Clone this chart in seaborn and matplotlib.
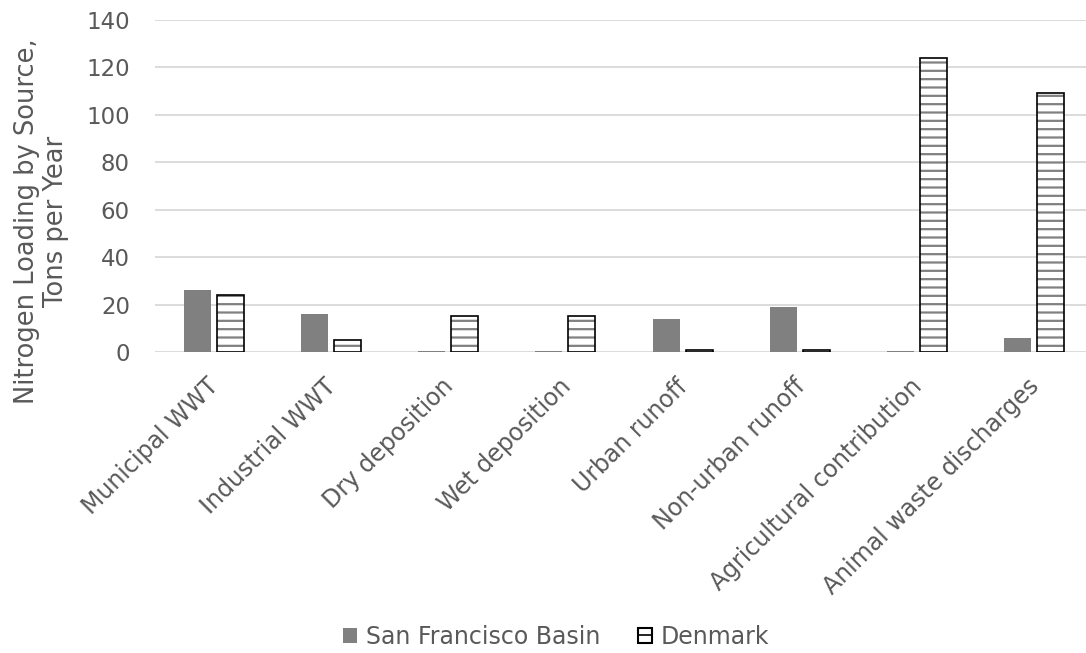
import matplotlib
matplotlib.use("Agg")
import matplotlib.pyplot as plt
import matplotlib.transforms as mtransforms
from matplotlib.patches import Patch, Rectangle
from matplotlib.lines import Line2D
from matplotlib.legend_handler import HandlerBase
import seaborn as sns
import pandas as pd

# Nitrogen loading by source (tons per year)
sources = [
    "Municipal WWT",
    "Industrial WWT",
    "Dry deposition",
    "Wet deposition",
    "Urban runoff",
    "Non-urban runoff",
    "Agricultural contribution",
    "Animal waste discharges",
]
san_francisco = [26, 16, 0.3, 0.2, 14, 19, 0.6, 6]
denmark = [24, 5, 15, 15, 0.8, 0.8, 124, 109]
regions = ["San Francisco Basin", "Denmark"]
y_ticks = [0, 20, 40, 60, 80, 100, 120, 140]

df = pd.DataFrame({
    "Source": sources * 2,
    "Load": san_francisco + denmark,
    "Region": [regions[0]] * len(sources) + [regions[1]] * len(sources),
})

sns.set_theme(style="white")
plt.rcParams["font.family"] = ["DejaVu Sans"]
plt.rcParams["hatch.linewidth"] = 1.6

TEXT = "#595959"
GRID = "#d9d9d9"
SF_GRAY = "#808080"


class HatchedBoxHandler(HandlerBase):
    """Legend key: white box with a black border and one horizontal rule."""

    def create_artists(self, legend, orig_handle, xdescent, ydescent,
                       width, height, fontsize, trans):
        x0, y0 = -xdescent, -ydescent
        box = Rectangle((x0, y0), width, height, facecolor="white",
                        edgecolor="black", linewidth=1.5, transform=trans)
        rule = Line2D([x0, x0 + width], [y0 + height / 2] * 2,
                      color="black", linewidth=1.2, transform=trans)
        return [box, rule]


fig = plt.figure(figsize=(10.86, 6.53), dpi=100)
ax = fig.add_axes([0.1427, 0.461, 0.8637, 0.5084])

sns.barplot(
    data=df, x="Source", y="Load", hue="Region", order=sources,
    hue_order=regions, palette={regions[0]: SF_GRAY, regions[1]: "white"},
    width=0.563, gap=0.18, linewidth=0, legend=False, ax=ax, zorder=2,
)

# Denmark bars: gray horizontal hatching with a black outline
for bar in ax.containers[1]:
    bar.set_hatch("--")
    bar.set_edgecolor(SF_GRAY)
    bar.set_linewidth(0)
    ax.add_patch(Rectangle(bar.get_xy(), bar.get_width(), bar.get_height(),
                           fill=False, edgecolor="black", linewidth=1.2,
                           zorder=3))

ax.set_ylim(0, 140)
ax.set_xlim(-0.5, len(sources) - 0.5)
ax.set_yticks(y_ticks)
ax.yaxis.grid(True, color=GRID, linewidth=1.3, zorder=0)
ax.set_axisbelow(True)
for side in ["top", "right", "left", "bottom"]:
    ax.spines[side].set_visible(False)

ax.tick_params(axis="y", length=0, pad=18, labelsize=16.5, labelcolor=TEXT)
ax.tick_params(axis="x", length=0, pad=16, labelsize=17, labelcolor=TEXT)
shift = mtransforms.ScaledTranslation(-0.07, 0, fig.dpi_scale_trans)
for lab in ax.get_xticklabels():
    lab.set_rotation(45)
    lab.set_ha("right")
    lab.set_rotation_mode("anchor")
    lab.set_transform(lab.get_transform() + shift)

ax.set_xlabel("")
ax.set_ylabel("Nitrogen Loading by Source,\nTons per Year",
              fontsize=18.5, color=TEXT, linespacing=1.12)
ax.yaxis.set_label_coords(-0.121, 0.393)
ax.yaxis.label.set_verticalalignment("center")

dk_key = Patch(facecolor="white", edgecolor="black")
handles = [Patch(facecolor=SF_GRAY, edgecolor="none"), dk_key]
fig.legend(handles, regions, loc="center", bbox_to_anchor=(0.512, 0.025),
           ncol=2, frameon=False, fontsize=17, labelcolor=TEXT,
           handlelength=0.6, handleheight=0.6, handletextpad=0.35,
           columnspacing=1.6, handler_map={dk_key: HatchedBoxHandler()})

fig.savefig("out.png", dpi=100)
